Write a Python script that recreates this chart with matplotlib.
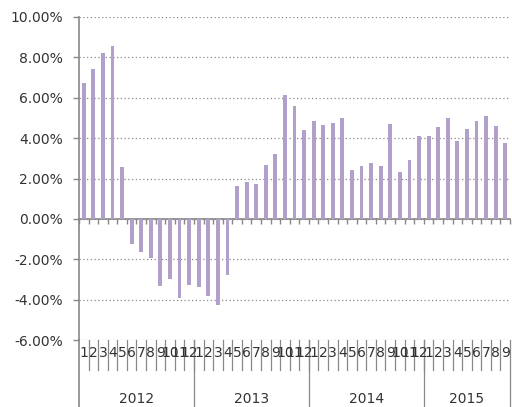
import matplotlib
matplotlib.use("Agg")
import matplotlib.pyplot as plt
import matplotlib.transforms as mtransforms
from matplotlib.lines import Line2D
import numpy as np

years = ["2012", "2013", "2014", "2015"]
months_per_year = [12, 12, 12, 9]
values = [
    # 2012
    6.74, 7.43, 8.20, 8.54, 2.58, -1.23, -1.62, -1.92, -3.33, -2.98, -3.94, -3.28,
    # 2013
    -3.36, -3.81, -4.27, -2.78, 1.62, 1.84, 1.72, 2.67, 3.20, 6.14, 5.59, 4.40,
    # 2014
    4.84, 4.63, 4.76, 5.02, 2.40, 2.64, 2.79, 2.64, 4.68, 2.31, 2.93, 4.13,
    # 2015
    4.13, 4.55, 4.98, 3.85, 4.43, 4.84, 5.11, 4.58, 3.75,
]
yticks = [-6, -4, -2, 0, 2, 4, 6, 8, 10]

month_labels = []
for n in months_per_year:
    month_labels += [str(m) for m in range(1, n + 1)]

fig = plt.figure(figsize=(5.12, 4.07), dpi=100)
ax = fig.add_axes([79 / 512, (407 - 340) / 407, (510 - 79) / 512, (340 - 17) / 407])

x = np.arange(len(values))
ax.bar(x, values, width=0.4, color="#b1a0c9", edgecolor="none", zorder=3)

ax.set_xlim(-0.5, len(values) - 0.5)
ax.set_ylim(-6, 10)
ax.set_yticks(yticks)
ax.set_yticklabels([f"{v:.2f}%" for v in yticks], fontsize=10, color="#333333")
ax.yaxis.grid(True, linestyle=(0, (1, 2)), color="#888888", linewidth=0.9, zorder=0)

for s in ["top", "right"]:
    ax.spines[s].set_visible(False)
ax.spines["bottom"].set_position(("data", 0))
ax.spines["bottom"].set_color("#888888")
ax.spines["left"].set_color("#888888")
ax.spines["bottom"].set_linewidth(1.2)
ax.spines["left"].set_linewidth(1.2)
ax.spines["left"].set_bounds(-6, 10)

ax.set_xticks(np.arange(-0.5, len(values), 1.0))
ax.set_xticklabels([])
ax.tick_params(axis="x", direction="out", length=3.5, color="#888888", width=1)
ax.tick_params(axis="y", direction="out", length=4.5, color="#888888", width=1, pad=7)

trans = mtransforms.blended_transform_factory(ax.transData, ax.transAxes)
# extend left axis to figure bottom
ax.add_line(Line2D([-0.5, -0.5], [0, -0.21], transform=trans, color="#888888",
                   linewidth=1.2, clip_on=False))

for i, lab in enumerate(month_labels):
    ax.text(i, -0.040, lab, transform=trans, ha="center", va="center",
            fontsize=10, color="#333333", clip_on=False)

for b in np.arange(0.5, len(values) - 0.5, 1.0):
    ax.add_line(Line2D([b, b], [0, -0.093], transform=trans, color="#888888",
                       linewidth=0.9, clip_on=False))

start = 0
bounds = [-0.5]
for yr, n in zip(years, months_per_year):
    ax.text(start + (n - 1) / 2, -0.183, yr, transform=trans, ha="center", va="center",
            fontsize=10, color="#333333", clip_on=False)
    start += n
    bounds.append(start - 0.5)
for b in bounds[1:]:
    ax.add_line(Line2D([b, b], [0, -0.21], transform=trans, color="#888888",
                       linewidth=0.9, clip_on=False))

fig.savefig("out.png", dpi=100)
